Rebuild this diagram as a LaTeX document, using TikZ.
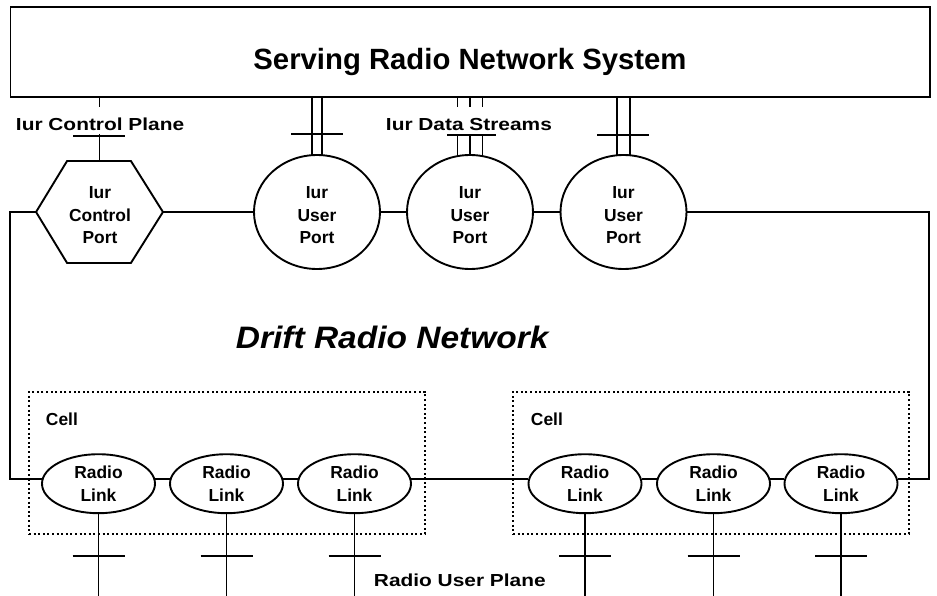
\documentclass[tikz,border=0pt]{standalone}
\usepackage{fontspec}
\usepackage{graphicx}
\setmainfont{Liberation Sans}
\usetikzlibrary{shapes.geometric,calc}
\newcommand\nodefnt{\fontsize{17.4}{22.5}\selectfont\bfseries}
\newcommand\lblfnt{\fontsize{17.4}{20}\selectfont\bfseries}
\begin{document}
\begin{tikzpicture}[x=1pt,y=-1pt,
  every path/.style={line width=1.9pt},
  port/.style={ellipse,draw,minimum width=126pt,minimum height=114pt,inner sep=0pt},
  rlink/.style={ellipse,draw,minimum width=113pt,minimum height=59pt,inner sep=0pt,align=center,font=\nodefnt},
  ntext/.style={align=center,font=\nodefnt,inner sep=0pt},
  cellbox/.style={draw,line width=1.6pt,dash pattern=on 2pt off 2.6pt,inner sep=0pt},
  lbl/.style={anchor=base west,inner sep=0pt,font=\lblfnt},
  flbl/.style={lbl,fill=white,text height=23.7pt,text depth=3.3pt}
]
\useasboundingbox (0,0) rectangle (937,596);

% Serving system box
\node[draw,inner sep=0pt,minimum width=919.5pt,minimum height=90pt] (srns) at (470.25,52) {};
\node[anchor=base,inner sep=0pt,font=\fontsize{29.3}{32}\selectfont\bfseries] (title) at (470,69.5) {Serving Radio Network System};

% Iur control port (hexagon)
\node[minimum width=125pt,minimum height=100pt,inner sep=0pt] (cp) at (99.5,212) {};
\draw (cp.west) -- ([xshift=31pt]cp.north west) -- ([xshift=-32pt]cp.north east) -- (cp.east)
      -- ([xshift=-32pt]cp.south east) -- ([xshift=31pt]cp.south west) -- cycle;
\node[ntext] (cpt) at (100,215.5) {Iur\\Control\\Port};

% Iur user ports
\node[port] (up1) at (317,212) {};
\node[port] (up2) at (470,212) {};
\node[port] (up3) at (623.5,212) {};
\node[ntext] (up1t) at (317,215.5) {Iur\\User\\Port};
\node[ntext] (up2t) at (470,215.5) {Iur\\User\\Port};
\node[ntext] (up3t) at (623.5,215.5) {Iur\\User\\Port};

% connectors between ports
\draw (cp.east) -- (up1.west);
\draw (up1.east) -- (up2.west);
\draw (up2.east) -- (up3.west);

% vertical connectors from serving system
\draw (cp.north |- srns.south) -- (cp.north);
\foreach \dx in {-5,5} {
  \draw ([xshift=\dx pt]up1.north |- srns.south) -- ([xshift=\dx pt,yshift=-0.5pt]up1.north);
}
\foreach \dx in {-12.5,0,12.5} {
  \draw ([xshift=\dx pt]up2.north |- srns.south) -- ([xshift=\dx pt,yshift=-1.5pt]up2.north);
}
\foreach \dx in {-6.7,6.7} {
  \draw ([xshift=\dx pt]up3.north |- srns.south) -- ([xshift=\dx pt,yshift=-0.6pt]up3.north);
}

% labels over the connectors
\node[flbl] (lcp) at (15,130.7) {\scalebox{1.2}[1]{Iur Control Plane}};
\node[flbl] (lds) at (385,130.7) {\scalebox{1.2}[1]{Iur Data Streams}};

% ticks on top connectors
\draw (73,136) -- (125,136);
\draw (291,134.3) -- (343,134.3);
\draw (447,135) -- (496,135);
\draw (597,135) -- (649,135);

% Drift label
\node[anchor=base west,inner sep=0pt,font=\fontsize{31}{34}\selectfont\bfseries\itshape] (drift) at (235,348.3) {\scalebox{1.08}[1]{Drift Radio Network}};

% Cells
\node[cellbox,minimum width=396pt,minimum height=142.3pt] (cellL) at (227,462.85) {};
\node[cellbox,minimum width=396pt,minimum height=142.3pt] (cellR) at (711,462.85) {};
\node[anchor=base west,inner sep=0pt,font=\nodefnt] (cellLt) at (45,425) {Cell};
\node[anchor=base west,inner sep=0pt,font=\nodefnt] (cellRt) at (530,425) {Cell};

% Radio links
\node[rlink] (rl1) at (98.5,483.7) {Radio\\Link};
\node[rlink] (rl2) at (226.5,483.7) {Radio\\Link};
\node[rlink] (rl3) at (354.5,483.7) {Radio\\Link};
\node[rlink] (rr1) at (585,483.7) {Radio\\Link};
\node[rlink] (rr2) at (713.5,483.7) {Radio\\Link};
\node[rlink] (rr3) at (841,483.7) {Radio\\Link};

\draw (rl1.5) -- (rl2.175);
\draw (rl2.5) -- (rl3.175);
\draw (rl3.5) -- (rr1.175);
\draw (rr1.5) -- (rr2.175);
\draw (rr2.5) -- (rr3.175);

% outer loop
\draw (cp.west) -- ++(-26,0) |- (rl1.175);
\draw (up3.east) -- (929,212) |- (rr3.5);

% radio user plane lines
\foreach \n in {rl1,rl2,rl3,rr1,rr2,rr3} {
  \draw (\n.south) -- (\n.south |- 0,596);
  \draw ($(\n.south |- 0,556)+(-26,0)$) -- ++(52,0);
}
\node[lbl] (rup) at (373,586.7) {\scalebox{1.2}[1]{Radio User Plane}};
\end{tikzpicture}
\end{document}
